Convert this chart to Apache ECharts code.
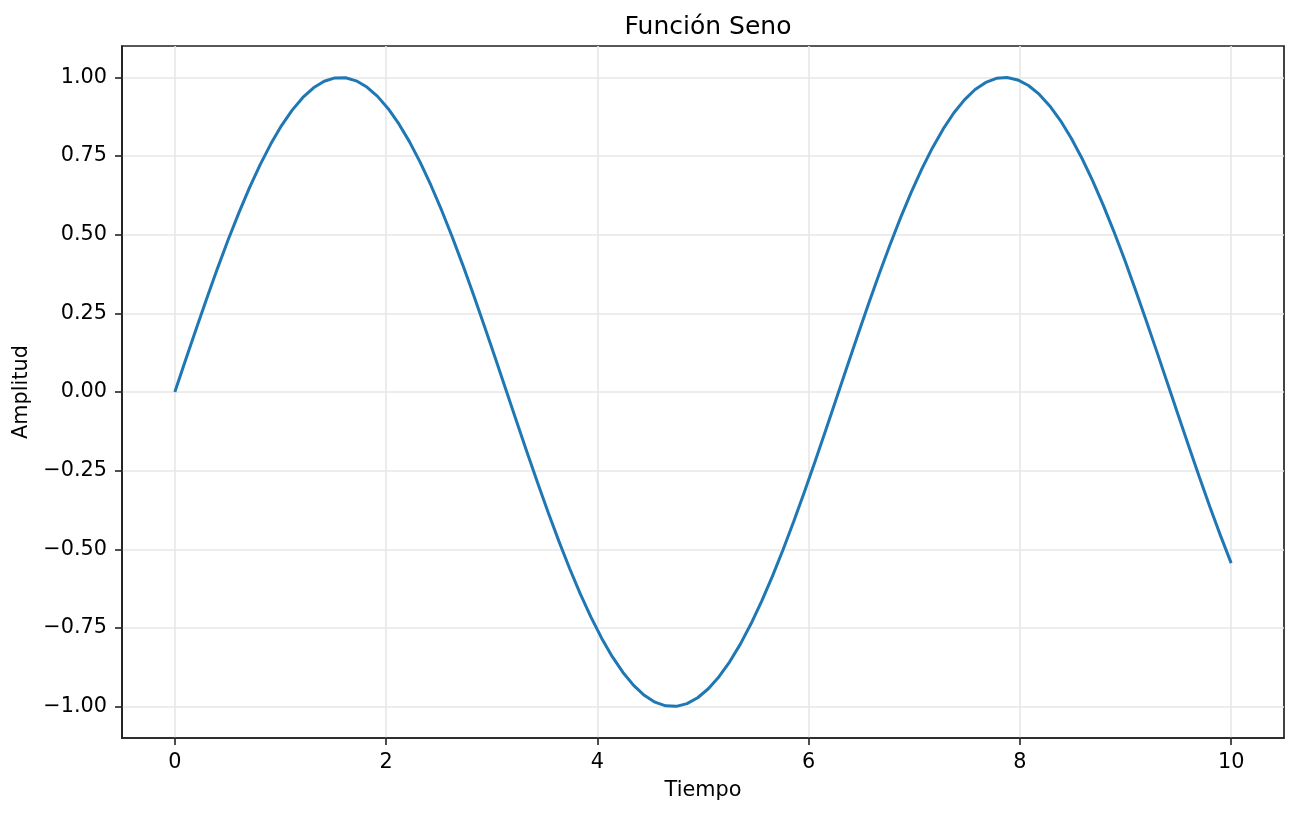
<!DOCTYPE html>
<html>
<head>
<meta charset="utf-8">
<title>Función Seno</title>
<script src="https://cdn.jsdelivr.net/npm/echarts@6/dist/echarts.min.js"></script>
<style>
html, body { margin: 0; padding: 0; background: #fff; }
#chart { width: 1299px; height: 817px; }
</style>
</head>
<body>
<div id="chart"></div>
<script>
// tiempo (eje x), 100 puntos entre 0 y 10
var tiempo = [
  0.0000, 0.1010, 0.2020, 0.3030, 0.4040, 0.5051, 0.6061, 0.7071, 0.8081, 0.9091,
  1.0101, 1.1111, 1.2121, 1.3131, 1.4141, 1.5152, 1.6162, 1.7172, 1.8182, 1.9192,
  2.0202, 2.1212, 2.2222, 2.3232, 2.4242, 2.5253, 2.6263, 2.7273, 2.8283, 2.9293,
  3.0303, 3.1313, 3.2323, 3.3333, 3.4343, 3.5354, 3.6364, 3.7374, 3.8384, 3.9394,
  4.0404, 4.1414, 4.2424, 4.3434, 4.4444, 4.5455, 4.6465, 4.7475, 4.8485, 4.9495,
  5.0505, 5.1515, 5.2525, 5.3535, 5.4545, 5.5556, 5.6566, 5.7576, 5.8586, 5.9596,
  6.0606, 6.1616, 6.2626, 6.3636, 6.4646, 6.5657, 6.6667, 6.7677, 6.8687, 6.9697,
  7.0707, 7.1717, 7.2727, 7.3737, 7.4747, 7.5758, 7.6768, 7.7778, 7.8788, 7.9798,
  8.0808, 8.1818, 8.2828, 8.3838, 8.4848, 8.5859, 8.6869, 8.7879, 8.8889, 8.9899,
  9.0909, 9.1919, 9.2929, 9.3939, 9.4949, 9.5960, 9.6970, 9.7980, 9.8990, 10.0000
];
// amplitud (eje y)
var amplitud = [
  0.0000, 0.1008, 0.2006, 0.2984, 0.3931, 0.4838, 0.5696, 0.6496, 0.7230, 0.7889,
  0.8469, 0.8961, 0.9364, 0.9670, 0.9878, 0.9985, 0.9990, 0.9893, 0.9696, 0.9399,
  0.9007, 0.8523, 0.7952, 0.7301, 0.6574, 0.5780, 0.4928, 0.4026, 0.3082, 0.2107,
  0.1111, 0.0103, -0.0906, -0.1906, -0.2886, -0.3837, -0.4749, -0.5611, -0.6418, -0.7158,
  -0.7826, -0.8414, -0.8916, -0.9327, -0.9643, -0.9861, -0.9978, -0.9994, -0.9908, -0.9720,
  -0.9434, -0.9051, -0.8577, -0.8016, -0.7370, -0.6650, -0.5863, -0.5017, -0.4120, -0.3180,
  -0.2208, -0.1213, -0.0206, 0.0803, 0.1804, 0.2787, 0.3742, 0.4658, 0.5527, 0.6339,
  0.7085, 0.7761, 0.8355, 0.8869, 0.9289, 0.9616, 0.9843, 0.9971, 0.9997, 0.9921,
  0.9744, 0.9468, 0.9095, 0.8629, 0.8075, 0.7439, 0.6727, 0.5948, 0.5108, 0.4219,
  0.3277, 0.2308, 0.1315, 0.0309, -0.0700, -0.1704, -0.2688, -0.3646, -0.4566, -0.5440
];
var xTicks = [0, 2, 4, 6, 8, 10];
var yTicks = [-1.0, -0.75, -0.5, -0.25, 0.0, 0.25, 0.5, 0.75, 1.0];

var font = "DejaVu Sans";
var fs = 20.8;
var chart = echarts.init(document.getElementById("chart"));

var puntos = [];
for (var i = 0; i < tiempo.length; i++) {
    puntos.push([tiempo[i], amplitud[i]]);
}

var edge = { color: "#222", width: 1.7 };
var tick = { color: "#222", width: 1.6 };
var rejilla = { color: "#e7e7e7", width: 1.6 };

chart.setOption({
    animation: false,
    textStyle: { fontFamily: font },
    title: {
        text: "Función Seno",
        left: 703,
        top: 10,
        textAlign: "center",
        textStyle: { fontFamily: font, fontSize: 25, fontWeight: "normal", color: "#000" }
    },
    grid: {
        left: 122,
        right: 15,
        top: 46,
        bottom: 79,
        show: true,
        borderColor: "#222",
        borderWidth: 1.7,
        containLabel: false
    },
    xAxis: {
        type: "value",
        min: -0.5,
        max: 10.5,
        name: "Tiempo",
        nameLocation: "middle",
        nameGap: 42,
        nameTextStyle: { fontFamily: font, fontSize: fs, color: "#000" },
        axisLine: { show: true, onZero: false, lineStyle: edge },
        axisTick: { show: true, customValues: xTicks, length: 7, lineStyle: tick },
        axisLabel: {
            customValues: xTicks,
            margin: 14,
            fontFamily: font,
            fontSize: fs,
            color: "#000"
        },
        splitLine: { show: true, lineStyle: rejilla }
    },
    yAxis: {
        type: "value",
        min: -1.1,
        max: 1.1,
        name: "Amplitud",
        nameLocation: "middle",
        nameGap: 84,
        nameTextStyle: { fontFamily: font, fontSize: fs, color: "#000" },
        axisLine: { show: true, onZero: false, lineStyle: edge },
        axisTick: { show: true, customValues: yTicks, length: 7, lineStyle: tick },
        axisLabel: {
            customValues: yTicks,
            margin: 15,
            fontFamily: font,
            fontSize: fs,
            color: "#000",
            formatter: function (v) {
                var s = Math.abs(v).toFixed(2);
                return v < 0 ? "\u2212" + s : s;
            }
        },
        splitLine: { show: true, lineStyle: rejilla }
    },
    series: [{
        type: "line",
        data: puntos,
        showSymbol: false,
        lineStyle: { color: "#1f77b4", width: 3 },
        itemStyle: { color: "#1f77b4" }
    }]
});
</script>
</body>
</html>
